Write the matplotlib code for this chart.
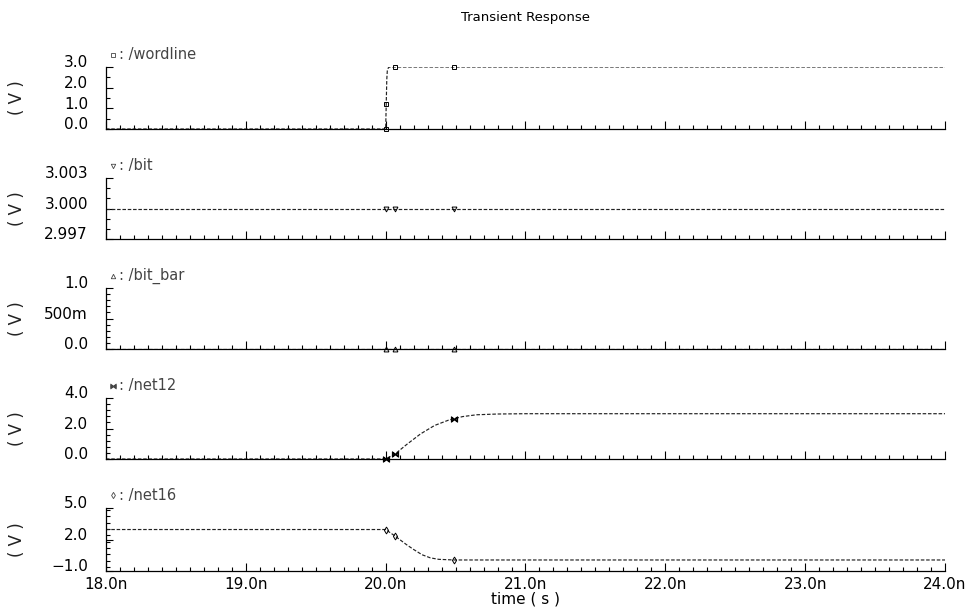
import numpy as np
import matplotlib as mpl
mpl.use('Agg')
from matplotlib import pyplot as plt
from matplotlib.ticker import MultipleLocator, FixedLocator, FuncFormatter
from matplotlib.transforms import ScaledTranslation

mpl.rcParams['font.family'] = 'DejaVu Sans'
mpl.rcParams['axes.linewidth'] = 0.9

# time axis in ns
t_start, t_stop = 18.0, 24.0
x_ticks = [18.0, 19.0, 20.0, 21.0, 22.0, 23.0, 24.0]

# signal waveforms (time in ns, voltage in V)
wordline_t = [18.0, 20.0, 20.004, 20.008, 20.012, 20.02, 20.03, 24.0]
wordline_v = [0.0, 0.0, 1.2, 2.4, 2.85, 2.97, 3.0, 3.0]

bit_t = [18.0, 24.0]
bit_v = [3.0, 3.0]

bit_bar_t = [18.0, 24.0]
bit_bar_v = [0.0, 0.0]

net12_t = [18.0, 20.0, 20.07, 20.15, 20.25, 20.35, 20.45, 20.55, 20.65, 20.8, 21.0, 24.0]
net12_v = [0.0, 0.0, 0.35, 0.95, 1.65, 2.2, 2.55, 2.78, 2.9, 2.95, 2.97, 2.97]

net16_t = [18.0, 20.0, 20.07, 20.15, 20.2, 20.26, 20.32, 20.38, 20.49, 21.0, 24.0]
net16_v = [2.95, 2.95, 2.3, 1.5, 1.05, 0.55, 0.25, 0.11, 0.05, 0.05, 0.05]

# times where the viewer drew its symbols
wordline_marks = [20.0, 20.004, 20.065, 20.49]
bit_marks = [20.0, 20.065, 20.49]
bit_bar_marks = [20.0, 20.065, 20.49]
net12_marks = [20.0, 20.065, 20.49]
net16_marks = [20.0, 20.07, 20.49]

# per panel: name, data, marks, marker, y range, tick values, tick labels, minor step
panels = [
    ("/wordline", wordline_t, wordline_v, wordline_marks, 's', (0.0, 3.0),
     [0.0, 1.0, 2.0, 3.0], ["0.0", "1.0", "2.0", "3.0"], 0.5),
    ("/bit", bit_t, bit_v, bit_marks, 'v', (2.997, 3.003),
     [2.997, 3.000, 3.003], ["2.997", "3.000", "3.003"], 0.001),
    ("/bit_bar", bit_bar_t, bit_bar_v, bit_bar_marks, '^', (0.0, 1.0),
     [0.0, 0.5, 1.0], ["0.0", "500m", "1.0"], 0.1),
    ("/net12", net12_t, net12_v, net12_marks, r'$\bowtie$', (0.0, 4.0),
     [0.0, 2.0, 4.0], ["0.0", "2.0", "4.0"], 0.4),
    ("/net16", net16_t, net16_v, net16_marks, 'd', (-1.0, 5.0),
     [-1.0, 2.0, 5.0], ["\u22121.0", "2.0", "5.0"], 0.6),
]

W, H = 974, 613
fig = plt.figure(figsize=(W / 100, H / 100), dpi=100, facecolor='white')

left_px, right_px = 106, 945
tops_px = [67, 178, 288, 398, 508]
bottoms_px = [129, 239, 349, 459, 571]

line_color = '#222222'
axes = []
for i, (name, t, v, marks, mk, ylim, yt, ylab, minor) in enumerate(panels):
    top, bot = tops_px[i], bottoms_px[i]
    ax = fig.add_axes([left_px / W, 1 - bot / H, (right_px - left_px) / W, (bot - top) / H])
    axes.append(ax)

    ax.plot(t, v, color=line_color, lw=0.85, ls=(0, (3, 1.5)))
    mv = np.interp(marks, t, v)
    ax.plot(marks, mv, ls='none', marker=mk, ms=4.5 if mk.startswith('$') else 3.5,
            mfc='none', mec='black', mew=0.7, clip_on=False)

    ax.set_xlim(t_start, t_stop)
    ax.set_ylim(*ylim)
    ax.spines['top'].set_visible(False)
    ax.spines['right'].set_visible(False)

    ax.yaxis.set_major_locator(FixedLocator(yt))
    ax.set_yticklabels(ylab)
    ax.yaxis.set_minor_locator(MultipleLocator(minor))
    ax.xaxis.set_major_locator(FixedLocator(x_ticks))
    ax.xaxis.set_minor_locator(MultipleLocator(0.1))
    ax.xaxis.set_major_formatter(FuncFormatter(lambda x, p: f"{x:.1f}n"))

    ax.tick_params(axis='both', which='both', direction='in', width=0.8, color='black')
    ax.tick_params(axis='y', which='major', length=5, labelsize=11, pad=13)
    ax.tick_params(axis='y', which='minor', length=3)
    ax.tick_params(axis='x', which='major', length=6, labelsize=11, pad=4)
    ax.tick_params(axis='x', which='minor', length=3)
    if i < len(panels) - 1:
        ax.tick_params(axis='x', which='both', labelbottom=False)

    # the viewer draws its value labels a little above the tick marks
    shift = ScaledTranslation(0, 4 / 72, fig.dpi_scale_trans)
    for tick in ax.yaxis.get_major_ticks():
        tick.label1.set_transform(tick.label1.get_transform() + shift)

    ax.set_ylabel("( V )", fontsize=12, color='#222222')
    ax.yaxis.set_label_coords((26 - left_px) / (right_px - left_px), 0.5)

    # curve legend: symbol + name above the panel
    ax.plot([0.008], [1.2], transform=ax.transAxes, ls='none', marker=mk,
            ms=4 if mk.startswith('$') else 3.2, mfc='none', mec='#444444', mew=0.6, clip_on=False)
    ax.text(0.016, 1.2, ": " + name, transform=ax.transAxes, fontsize=10.5,
            color='#444444', va='center', ha='left')

axes[-1].set_xlabel("time ( s )", fontsize=11, labelpad=0)
fig.text((left_px + right_px) / 2 / W, 1 - 18 / H, "Transient Response",
         ha='center', va='center', fontsize=9.5)

fig.savefig('out.png', dpi=100, facecolor='white')
